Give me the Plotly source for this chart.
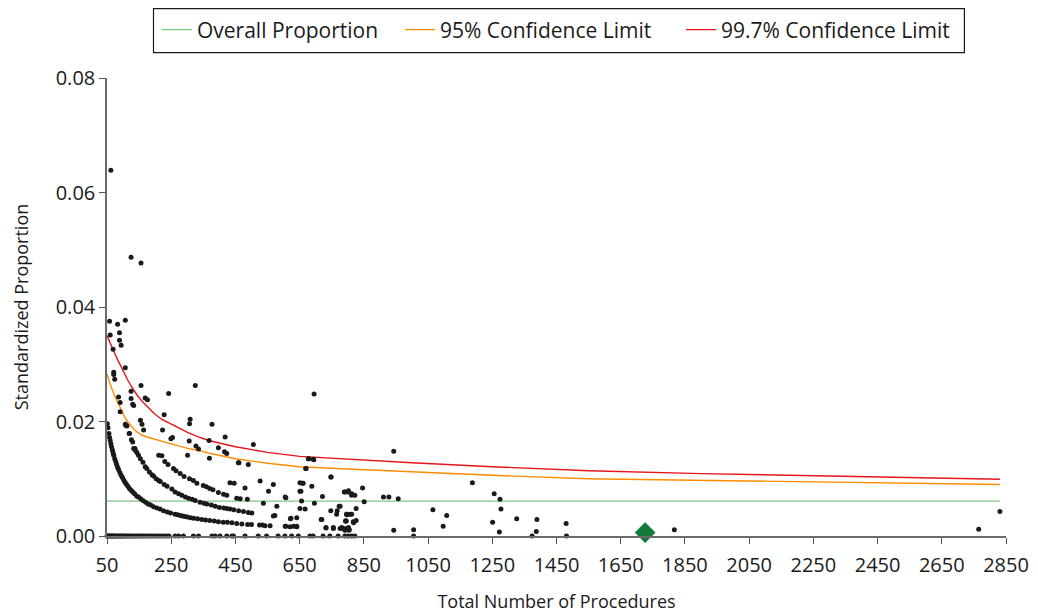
import plotly.graph_objects as go

# ---------------- data ----------------
x_ticks = [50, 250, 450, 650, 850, 1050, 1250, 1450, 1650, 1850, 2050, 2250, 2450, 2650, 2850]
y_ticks = [0.0, 0.02, 0.04, 0.06, 0.08]
y_tick_labels = ["0.00", "0.02", "0.04", "0.06", "0.08"]

overall_n = [50, 2831]
overall_p = [0.0061, 0.0061]

limit_n = [50, 60, 73, 83, 94, 104, 115, 125, 135, 145, 160, 180, 197, 220, 250, 301, 340, 373,
           450, 550, 650, 800, 1000, 1250, 1550, 1900, 2350, 2831]
limit95_p = [0.0283, 0.0265, 0.0246, 0.0233, 0.0220, 0.0209, 0.0199, 0.0192, 0.0186, 0.0181,
             0.0176, 0.0172, 0.0169, 0.0165, 0.0161, 0.0153, 0.0149, 0.0144,
             0.0135, 0.0127, 0.0121, 0.0117, 0.0112, 0.0106, 0.0100, 0.0097, 0.0094, 0.0090]
limit997_p = [0.0350, 0.0336, 0.0320, 0.0308, 0.0295, 0.0283, 0.0272, 0.0262, 0.0253, 0.0245,
              0.0235, 0.0223, 0.0214, 0.0204, 0.0195, 0.0181, 0.0172, 0.0166,
              0.0156, 0.0146, 0.0139, 0.0134, 0.0128, 0.0121, 0.0114, 0.0109, 0.0104, 0.0099]

# hospitals with zero events
zero_n = [50, 53, 56, 59, 62, 65, 68, 71, 75, 79, 83, 87, 91, 95, 99, 104, 109, 114, 119, 124,
          130, 136, 142, 148, 154, 160, 167, 174, 181, 188, 195, 203, 211, 219, 227, 235, 243,
          262, 273, 288, 319, 335, 377, 387, 402, 423, 439, 444, 480, 521, 547, 583, 604, 625,
          646, 682, 692, 723, 744, 770, 791, 801, 812, 822, 1005, 1374, 1481]

# scattered hospitals, upper region (n, proportion)
pts_high = [(62, .0639), (125, .0487), (156, .0477), (58, .0375), (83, .0370), (107, .0377),
            (60, .0351), (89, .0355), (89, .0342), (94, .0333), (69, .0326), (107, .0294),
            (71, .0286), (71, .0282), (74, .0274), (125, .0253), (156, .0263), (325, .0263),
            (242, .0249), (695, .0248), (86, .0243), (125, .0240), (169, .0241), (176, .0238),
            (91, .0233), (130, .0230), (133, .0228), (91, .0217), (228, .0212), (309, .0204),
            (307, .0196), (377, .0195), (154, .0202), (159, .0195), (164, .0185), (223, .0185),
            (249, .0170), (254, .0172), (306, .0166), (327, .0157), (335, .0152), (368, .0167),
            (369, .0136), (397, .0154), (418, .0173), (416, .0147), (423, .0144), (506, .0160),
            (461, .0128), (490, .0125), (677, .0135), (693, .0134), (670, .0118), (747, .0103),
            (527, .0096), (568, .0090), (553, .0078), (651, .0093), (658, .0092), (688, .0087),
            (654, .0078), (607, .0067), (721, .0069), (801, .0077), (789, .0077), (812, .0071),
            (301, .0141), (107, .0195), (120, .0179)]

# hospitals with a single event
pts_one = [(51, .0196), (53, .0189), (56, .0179), (58, .0172), (60, .0167), (62, .0161),
           (64, .0156), (67, .0150), (69, .0145), (71, .0141), (74, .0135), (77, .0130),
           (80, .0125), (83, .0120), (86, .0116), (90, .0111), (94, .0106), (98, .0102),
           (102, .0098), (106, .0094), (110, .0091), (115, .0087), (120, .0083), (125, .0080),
           (130, .0077), (136, .0074), (142, .0070), (148, .0068), (155, .0065), (162, .0062),
           (170, .0059), (178, .0056), (186, .0054), (195, .0051), (205, .0049), (215, .0047),
           (226, .0044), (238, .0042), (248, .0040), (262, .0038), (270, .0037), (278, .0036),
           (285, .0035), (293, .0034), (300, .0033), (310, .0032), (320, .0031), (332, .0030),
           (345, .0029), (357, .0028), (370, .0027), (384, .0026), (397, .0025), (412, .0024),
           (425, .0024), (439, .0023), (454, .0022), (470, .0021), (488, .0020), (500, .0020),
           (525, .0019), (534, .0019), (542, .0018), (558, .0018), (605, .0017), (620, .0016),
           (641, .0016), (732, .0014), (755, .0013), (776, .0013), (786, .0013), (796, .0013),
           (804, .0012)]

# hospitals with two events
pts_two = [(109, .0193), (112, .0192), (119, .0179), (126, .0168), (130, .0164), (133, .0153),
           (137, .0153), (138, .0150), (143, .0146), (148, .0141), (154, .0135), (162, .0129),
           (169, .0121), (174, .0118), (182, .0112), (190, .0107), (195, .0105), (203, .0100),
           (211, .0097), (216, .0095), (228, .0090), (237, .0087), (252, .0082), (262, .0077),
           (273, .0074), (283, .0071), (294, .0068), (304, .0066), (315, .0064), (325, .0062),
           (340, .0059), (352, .0057), (361, .0056), (375, .0054), (387, .0052), (400, .0050),
           (413, .0049), (423, .0048), (433, .0047), (445, .0046), (460, .0044), (475, .0043),
           (490, .0041), (501, .0040), (573, .0036), (568, .0035), (623, .0031), (641, .0032),
           (621, .0030), (717, .0029), (719, .0029), (793, .0026), (794, .0026), (817, .0025)]

# hospitals with three or more events, mid region
pts_mid = [(211, .0141), (221, .0140), (230, .0130), (240, .0125), (257, .0118), (265, .0114),
           (278, .0109), (290, .0104), (307, .0100), (319, .0097), (330, .0092), (350, .0088),
           (360, .0086), (370, .0083), (380, .0081), (397, .0076), (413, .0073), (423, .0071),
           (433, .0093), (446, .0092), (480, .0084), (459, .0128), (454, .0066), (465, .0065),
           (487, .0064), (537, .0057), (579, .0052), (605, .0068), (661, .0092), (651, .0078),
           (669, .0118), (679, .0135), (694, .0133), (656, .0061), (696, .0057), (651, .0048),
           (667, .0047), (748, .0103), (747, .0044), (765, .0038), (767, .0044), (773, .0052),
           (798, .0037), (796, .0038), (807, .0038), (607, .0017), (631, .0017), (641, .0017),
           (732, .0015), (755, .0015), (781, .0015), (791, .0010), (804, .0010)]

# hospitals with more procedures
pts_right = [(776, .0052), (791, .0077), (802, .0079), (812, .0074), (822, .0071), (846, .0084),
             (851, .0060), (826, .0048), (797, .0038), (812, .0038), (818, .0023), (826, .0027),
             (795, .0026), (791, .0011), (802, .0015), (911, .0068), (928, .0068), (957, .0065),
             (943, .0148), (943, .0010), (1005, .0011), (1065, .0046), (1097, .0017), (1108, .0036),
             (1188, .0093), (1251, .0024), (1256, .0074), (1274, .0064), (1277, .0047),
             (1272, .0007), (1326, .0030), (1387, .0008), (1389, .0029), (1480, .0022),
             (1817, .0011), (2765, .0012), (2831, .0043)]

highlight_n = [1726]
highlight_p = [0.0006]

# ---------------- figure ----------------
FONT = "Open Sans"
# the page body has an 8 px margin, so the figure is sized to the visible area
W, H = 1030, 606
ML, MR, MT, MB = 99, 32, 70, 78
PW, PH = W - ML - MR, H - MT - MB

all_pts = pts_high + pts_one + pts_two + pts_mid + pts_right
dot_n = zero_n + [p[0] for p in all_pts]
dot_p = [0.0] * len(zero_n) + [p[1] for p in all_pts]

fig = go.Figure()
fig.add_trace(go.Scatter(x=overall_n, y=overall_p, mode="lines", name="Overall Proportion",
                         legend="legend", line=dict(color="#7fc97f", width=1.4)))
fig.add_trace(go.Scatter(x=limit_n, y=limit95_p, mode="lines", name="95% Confidence Limit",
                         legend="legend2", line=dict(color="#ff8c00", width=1.4)))
fig.add_trace(go.Scatter(x=limit_n, y=limit997_p, mode="lines", name="99.7% Confidence Limit",
                         legend="legend3", line=dict(color="#e8141c", width=1.4)))
fig.add_trace(go.Scatter(x=dot_n, y=dot_p, mode="markers", showlegend=False, cliponaxis=False,
                         marker=dict(color="#1a1a1a", size=5, line=dict(width=0))))
fig.add_trace(go.Scatter(x=highlight_n, y=highlight_p, mode="markers", showlegend=False,
                         cliponaxis=False,
                         marker=dict(symbol="diamond", color="#127a3d", size=16, line=dict(width=0))))


def legend_at(px_left):
    return dict(orientation="h", xref="container", yref="container",
                x=px_left / W, xanchor="left", y=1 - 22 / H, yanchor="middle",
                borderwidth=0, bgcolor="rgba(0,0,0,0)",
                font=dict(family=FONT, size=21, color="#1a1a1a"), itemwidth=30)


# outer frame of the legend
fig.add_shape(type="rect", xref="paper", yref="paper",
              x0=(145.5 - ML) / PW, x1=(956.4 - ML) / PW,
              y0=1 + (MT - 44.7) / PH, y1=1 + (MT - 0.6) / PH,
              line=dict(color="#1a1a1a", width=1.2), fillcolor="white", layer="below")

fig.update_layout(
    width=W, height=H,
    margin=dict(l=ML, r=MR, t=MT, b=MB, autoexpand=False),
    paper_bgcolor="white", plot_bgcolor="white",
    font=dict(family=FONT, size=20, color="#1a1a1a"),
    showlegend=True,
    legend=legend_at(149), legend2=legend_at(392), legend3=legend_at(673),
)
fig.update_xaxes(range=[50, 2850], tickvals=x_ticks, ticktext=[str(v) for v in x_ticks],
                 automargin=False,
                 showgrid=False, zeroline=False, showline=True, linecolor="#6b6b6b", linewidth=1.5,
                 ticks="outside", ticklen=6, tickcolor="#555555", tickwidth=1.2,
                 tickfont=dict(size=20), ticklabelstandoff=4,
                 title=dict(text="Total Number of Procedures", font=dict(size=18), standoff=19))
fig.update_yaxes(range=[0, 0.08], tickvals=y_ticks, ticktext=y_tick_labels,
                 automargin=False,
                 showgrid=False, zeroline=False, showline=True, linecolor="#6b6b6b", linewidth=1.5,
                 ticks="outside", ticklen=6, tickcolor="#555555", tickwidth=1.2,
                 tickfont=dict(size=20),
                 title=dict(text="Standardized Proportion", font=dict(size=18), standoff=22))

fig.write_html("out.html")
